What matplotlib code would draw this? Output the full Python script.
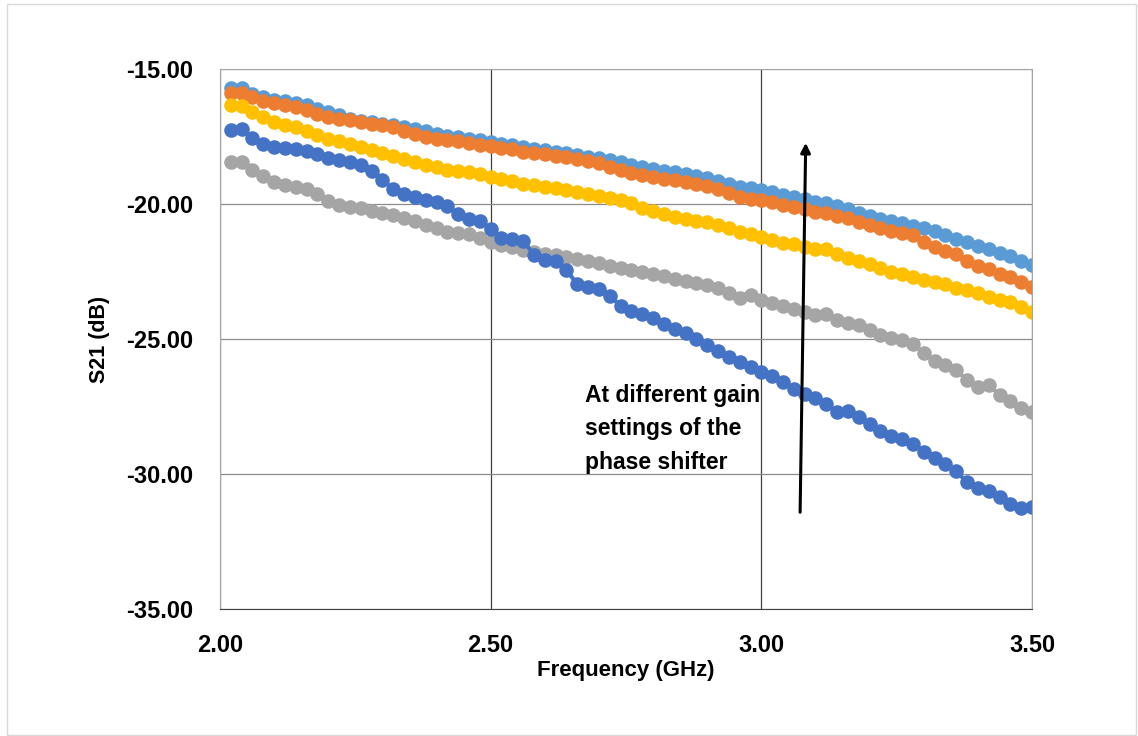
import matplotlib
matplotlib.use("Agg")
import matplotlib.pyplot as plt
from matplotlib.patches import Rectangle

# frequency points (GHz)
freq = [2.02, 2.04, 2.06, 2.08, 2.10, 2.12, 2.14, 2.16, 2.18, 2.20,
        2.22, 2.24, 2.26, 2.28, 2.30, 2.32, 2.34, 2.36, 2.38, 2.40,
        2.42, 2.44, 2.46, 2.48, 2.50, 2.52, 2.54, 2.56, 2.58, 2.60,
        2.62, 2.64, 2.66, 2.68, 2.70, 2.72, 2.74, 2.76, 2.78, 2.80,
        2.82, 2.84, 2.86, 2.88, 2.90, 2.92, 2.94, 2.96, 2.98, 3.00,
        3.02, 3.04, 3.06, 3.08, 3.10, 3.12, 3.14, 3.16, 3.18, 3.20,
        3.22, 3.24, 3.26, 3.28, 3.30, 3.32, 3.34, 3.36, 3.38, 3.40,
        3.42, 3.44, 3.46, 3.48, 3.50]

# S21 (dB) for each gain setting
s21_light_blue = [-15.70, -15.72, -15.92, -16.05, -16.15, -16.20, -16.24, -16.32, -16.48, -16.60,
                  -16.72, -16.84, -16.92, -16.97, -17.02, -17.08, -17.15, -17.22, -17.30, -17.40,
                  -17.48, -17.52, -17.58, -17.64, -17.70, -17.76, -17.82, -17.90, -17.95, -18.00,
                  -18.06, -18.12, -18.18, -18.24, -18.31, -18.38, -18.46, -18.54, -18.62, -18.70,
                  -18.76, -18.82, -18.88, -18.96, -19.04, -19.13, -19.25, -19.36, -19.42, -19.48,
                  -19.56, -19.65, -19.74, -19.82, -19.92, -19.98, -20.06, -20.20, -20.35, -20.45,
                  -20.55, -20.64, -20.72, -20.80, -20.88, -21.00, -21.14, -21.30, -21.42, -21.54,
                  -21.66, -21.80, -21.94, -22.10, -22.26]
s21_orange = [-15.88, -15.90, -16.05, -16.18, -16.27, -16.34, -16.42, -16.52, -16.66, -16.78,
              -16.84, -16.90, -16.96, -17.02, -17.08, -17.16, -17.28, -17.40, -17.50, -17.58,
              -17.63, -17.68, -17.74, -17.80, -17.85, -17.92, -17.98, -18.06, -18.12, -18.16,
              -18.22, -18.27, -18.34, -18.42, -18.49, -18.62, -18.74, -18.84, -18.93, -19.00,
              -19.06, -19.12, -19.18, -19.26, -19.34, -19.44, -19.58, -19.73, -19.80, -19.85,
              -19.92, -20.02, -20.12, -20.20, -20.28, -20.35, -20.44, -20.52, -20.65, -20.76,
              -20.88, -21.00, -21.08, -21.16, -21.40, -21.58, -21.74, -21.86, -22.10, -22.28,
              -22.42, -22.58, -22.72, -22.88, -23.06]
s21_yellow = [-16.35, -16.38, -16.60, -16.78, -16.95, -17.06, -17.16, -17.30, -17.46, -17.60,
              -17.68, -17.76, -17.88, -18.00, -18.12, -18.22, -18.32, -18.43, -18.54, -18.64,
              -18.74, -18.78, -18.82, -18.90, -18.99, -19.08, -19.16, -19.24, -19.31, -19.36,
              -19.42, -19.48, -19.56, -19.64, -19.72, -19.78, -19.86, -19.96, -20.14, -20.26,
              -20.36, -20.48, -20.56, -20.62, -20.68, -20.76, -20.90, -21.04, -21.12, -21.21,
              -21.32, -21.46, -21.48, -21.60, -21.68, -21.66, -21.86, -22.00, -22.12, -22.24,
              -22.36, -22.50, -22.60, -22.70, -22.80, -22.88, -22.98, -23.10, -23.20, -23.30,
              -23.44, -23.54, -23.64, -23.80, -23.99]
s21_gray = [-18.46, -18.45, -18.74, -18.96, -19.17, -19.28, -19.36, -19.46, -19.64, -19.90,
            -20.04, -20.10, -20.16, -20.26, -20.35, -20.42, -20.52, -20.62, -20.76, -20.90,
            -21.02, -21.06, -21.12, -21.26, -21.40, -21.50, -21.60, -21.70, -21.78, -21.84,
            -21.90, -21.95, -22.04, -22.12, -22.20, -22.28, -22.38, -22.46, -22.52, -22.60,
            -22.68, -22.76, -22.84, -22.92, -23.00, -23.10, -23.30, -23.48, -23.38, -23.55,
            -23.66, -23.78, -23.88, -24.00, -24.12, -24.06, -24.28, -24.40, -24.48, -24.66,
            -24.86, -24.96, -25.04, -25.18, -25.52, -25.82, -25.98, -26.16, -26.52, -26.78,
            -26.72, -27.06, -27.30, -27.56, -27.69]
s21_dark_blue = [-17.24, -17.22, -17.56, -17.76, -17.88, -17.94, -17.98, -18.04, -18.16, -18.28,
                 -18.36, -18.44, -18.56, -18.76, -19.10, -19.44, -19.62, -19.73, -19.86, -19.94,
                 -20.08, -20.38, -20.54, -20.64, -20.92, -21.27, -21.30, -21.36, -21.88, -22.08,
                 -22.12, -22.46, -22.96, -23.06, -23.14, -23.40, -23.78, -23.98, -24.08, -24.22,
                 -24.44, -24.62, -24.78, -25.00, -25.24, -25.46, -25.66, -25.84, -26.04, -26.21,
                 -26.36, -26.58, -26.86, -27.02, -27.20, -27.42, -27.72, -27.66, -27.88, -28.14,
                 -28.40, -28.58, -28.72, -28.88, -29.18, -29.42, -29.62, -29.90, -30.30, -30.52,
                 -30.64, -30.86, -31.10, -31.26, -31.24]

x_ticks = [2.0, 2.5, 3.0, 3.5]
y_ticks = [-35, -30, -25, -20, -15]

plt.rcParams["font.family"] = ["Liberation Sans", "DejaVu Sans"]

fig = plt.figure(figsize=(11.38, 7.36), dpi=100)
fig.patches.append(Rectangle((0.006, 0.002), 0.992, 0.992, transform=fig.transFigure,
                             fill=False, edgecolor="#d9d9d9", linewidth=1))
ax = fig.add_axes([0.1933, 0.1726, 0.7136, 0.7336])

series = [
    (s21_light_blue, "#5B9BD5"),
    (s21_orange, "#ED7D31"),
    (s21_yellow, "#FFC000"),
    (s21_gray, "#A5A5A5"),
    (s21_dark_blue, "#4472C4"),
]
for vals, col in series:
    ax.plot(freq, vals, "-o", color=col, markersize=10.5, linewidth=3, markeredgewidth=0)

ax.set_xlim(2.0, 3.5)
ax.set_ylim(-35, -15)
ax.set_xticks(x_ticks)
ax.set_yticks(y_ticks)
ax.set_xticklabels([f"{v:.2f}" for v in x_ticks], fontsize=17, fontweight="bold")
ax.set_yticklabels([f"{v:.2f}" for v in y_ticks], fontsize=17, fontweight="bold")
ax.tick_params(axis="x", length=0, pad=18)
ax.tick_params(axis="y", length=0, pad=19)

ax.xaxis.grid(True, color="#404040", linewidth=0.9)
ax.yaxis.grid(True, color="#8c8c8c", linewidth=0.9)
ax.set_axisbelow(True)
for side in ["top", "right", "left"]:
    ax.spines[side].set_color("#a6a6a6")
ax.spines["bottom"].set_color("#404040")

ax.set_xlabel("Frequency (GHz)", fontsize=16, fontweight="bold", labelpad=2)
ax.set_ylabel("S21 (dB)", fontsize=15.5, fontweight="bold", labelpad=12)

ax.text(2.674, -26.65, "At different gain\nsettings of the\nphase shifter",
        fontsize=16.5, fontweight="bold", va="top", ha="left", linespacing=1.6)
ax.annotate("", xy=(3.082, -17.63), xytext=(3.0715, -31.52),
            arrowprops=dict(arrowstyle="-|>", color="black", lw=2.2, mutation_scale=14))

fig.savefig("out.png", dpi=100)
